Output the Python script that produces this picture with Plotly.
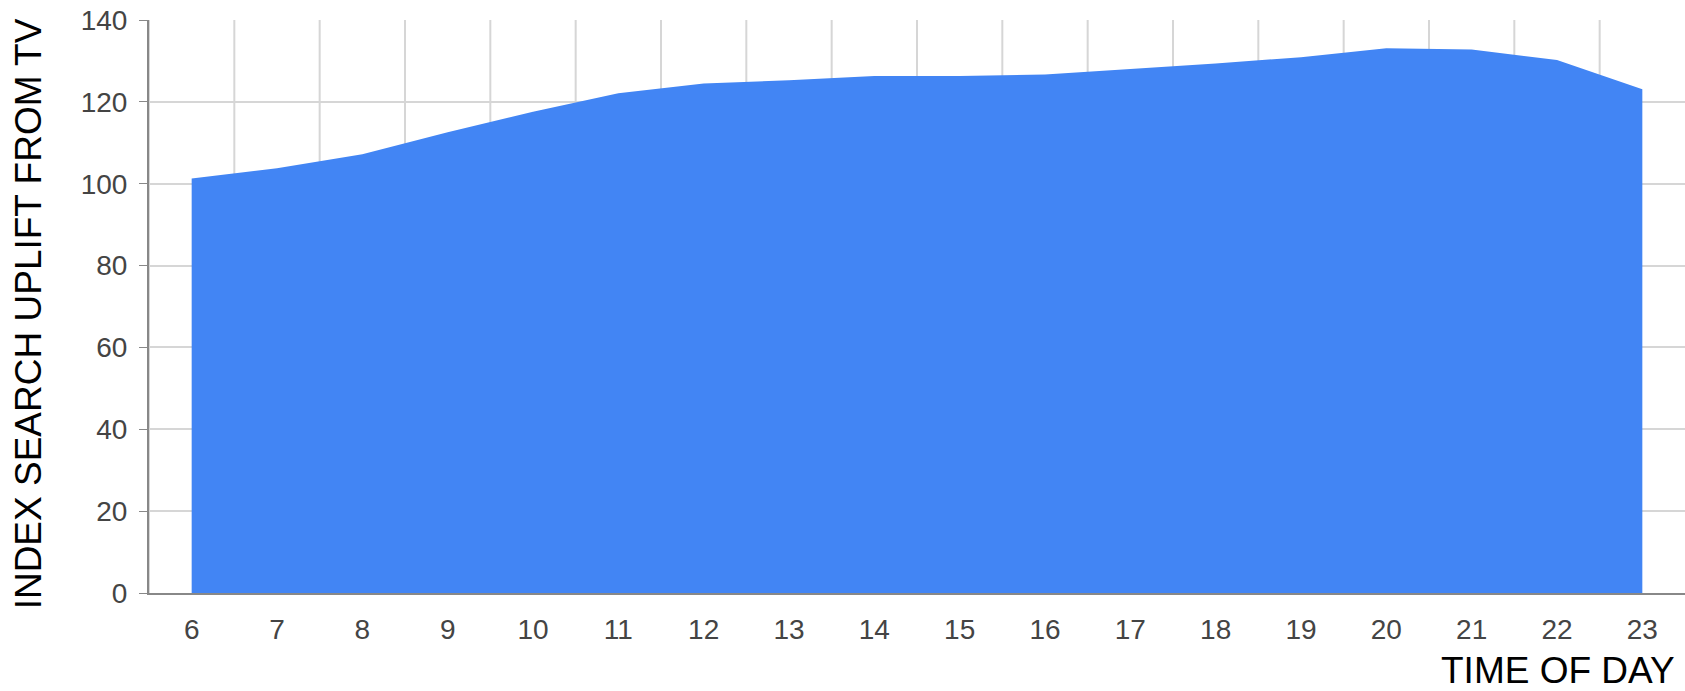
import plotly.graph_objects as go

# Hour of day and indexed search uplift attributed to TV
hours = [6, 7, 8, 9, 10, 11, 12, 13, 14, 15, 16, 17, 18, 19, 20, 21, 22, 23]
uplift = [101.3, 103.8, 107.2, 112.6, 117.6, 122.1, 124.5, 125.3, 126.3,
          126.3, 126.7, 128.0, 129.4, 130.9, 133.1, 132.8, 130.2, 123.1]
y_ticks = [0, 20, 40, 60, 80, 100, 120, 140]

BLUE = "#4285F4"
FONT = "Liberation Sans, Arial, sans-serif"

fig = go.Figure(
    go.Scatter(
        x=hours,
        y=uplift,
        mode="lines",
        line=dict(color=BLUE, width=0),
        fill="tozeroy",
        fillcolor=BLUE,
        hoverinfo="x+y",
    )
)

fig.update_layout(
    width=1685,
    height=691,
    margin=dict(l=149, r=0, t=20, b=98),
    paper_bgcolor="white",
    plot_bgcolor="white",
    showlegend=False,
    font=dict(family=FONT, color="#444444", size=28),
)

fig.update_xaxes(
    range=[5.5, 23.5],
    tickvals=hours,
    ticktext=[str(h) for h in hours],
    showgrid=False,
    ticks="",
    ticklabelstandoff=10,
    showline=True,
    linecolor="#888888",
    linewidth=2,
    zeroline=False,
    tickfont=dict(size=28, color="#444444"),
)

# vertical gridlines sit between hours
for b in range(6, 24):
    fig.add_vline(x=b - 0.5, line=dict(color="#d6d6d6", width=2), layer="below")

fig.update_yaxes(
    range=[0, 140],
    tickvals=y_ticks,
    showgrid=True,
    gridcolor="#d6d6d6",
    gridwidth=2,
    ticks="outside",
    ticklen=8,
    tickwidth=1,
    tickcolor="#888888",
    ticklabelstandoff=6,
    showline=True,
    linecolor="#888888",
    linewidth=2,
    zeroline=False,
    tickfont=dict(size=28, color="#444444"),
)

fig.add_annotation(
    text="INDEX SEARCH UPLIFT FROM TV",
    xref="paper", yref="paper",
    x=(28 - 149) / 1536, y=(593.3 - 314.5) / 573.3,
    xanchor="center", yanchor="middle",
    textangle=-90,
    showarrow=False,
    font=dict(family=FONT, size=37, color="#000000"),
)

fig.add_annotation(
    text="TIME OF DAY",
    xref="paper", yref="paper",
    x=(1677 - 149) / 1536, y=(593.3 - 671) / 573.3,
    xanchor="right", yanchor="middle",
    showarrow=False,
    font=dict(family=FONT, size=37, color="#000000"),
)

fig.write_html("out.html")
